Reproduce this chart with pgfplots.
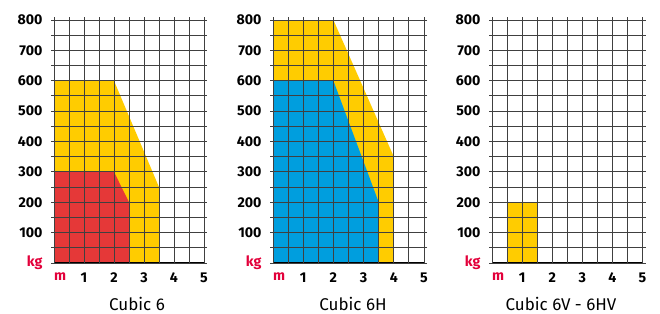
\documentclass[border=0pt]{standalone}
\usepackage{fontspec}
\setmainfont{Fira Sans}
\usepackage{pgfplots}
\pgfplotsset{compat=1.18}
\definecolor{cyel}{RGB}{255,204,0}
\definecolor{cred}{RGB}{229,56,56}
\definecolor{cblue}{RGB}{0,158,222}
\definecolor{kgred}{RGB}{226,0,58}
\pgfplotsset{
  panel/.style={
    scale only axis, width=150pt, height=243pt,
    xmin=0, xmax=5, ymin=0, ymax=800,
    xtick={0,1,2,3,4,5},
    xticklabels={\makebox[0pt][l]{\textcolor{kgred}{m}},1,2,3,4,5},
    minor xtick={0.5,1.5,2.5,3.5,4.5},
    ytick={0,100,200,300,400,500,600,700,800},
    yticklabels={\raisebox{4pt}{\textcolor{kgred}{kg}},100,200,300,400,500,600,700,800},
    minor ytick={50,150,250,350,450,550,650,750},
    grid=both,
    major grid style={line width=0.9pt, black!75},
    minor grid style={line width=0.9pt, black!75},
    axis line style={line width=0.9pt, black!75},
    tick style={line width=0.9pt, black!75},
    tick align=center,
    major tick length=6pt, minor tick length=6pt,
    xtick pos=upper, xticklabel pos=lower,
    ytick pos=both, yticklabel pos=lower,
    ticklabel style={font=\fontsize{14.2}{14.2}\selectfont\bfseries},
    yticklabel style={xshift=-5pt},
    xticklabel style={yshift=-3pt},
    axis on top,
  }
}
\begin{document}
\begin{tikzpicture}[x=1pt,y=1pt]
\useasboundingbox (0,0) rectangle (660,313);
% Panel 1
\begin{axis}[panel, at={(54pt,50pt)}, anchor=south west]
\addplot[fill=cyel, draw=none] coordinates {(0,0) (0,600) (2,600) (3.5,250) (3.5,0)} -- cycle;
\addplot[fill=cred, draw=none] coordinates {(0,0) (0,300) (2,300) (2.5,200) (2.5,0)} -- cycle;
\draw[line width=1.6pt, black] (rel axis cs:0,0) -- (rel axis cs:0,1);
\draw[line width=1.6pt, black] (rel axis cs:0,0) -- (rel axis cs:1,0);
\end{axis}
% Panel 2
\begin{axis}[panel, width=151pt, at={(273pt,50pt)}, anchor=south west]
\addplot[fill=cyel, draw=none] coordinates {(0,0) (0,800) (2,800) (4,350) (4,0)} -- cycle;
\addplot[fill=cblue, draw=none] coordinates {(0,0) (0,600) (2,600) (3.5,200) (3.5,0)} -- cycle;
\draw[line width=1.6pt, black] (rel axis cs:0,0) -- (rel axis cs:0,1);
\draw[line width=1.6pt, black] (rel axis cs:0,0) -- (rel axis cs:1,0);
\end{axis}
% Panel 3
\begin{axis}[panel, width=150.5pt, at={(492pt,50pt)}, anchor=south west]
\addplot[fill=cyel, draw=none] coordinates {(0.5,0) (0.5,200) (1.5,200) (1.5,0)} -- cycle;
\draw[line width=1.6pt, black] (rel axis cs:0,0) -- (rel axis cs:0,1);
\draw[line width=1.6pt, black] (rel axis cs:0,0) -- (rel axis cs:1,0);
\end{axis}
\node[anchor=base, font=\fontsize{17}{17}\selectfont, inner sep=0pt] at (137,3) {Cubic 6};
\node[anchor=base, font=\fontsize{17}{17}\selectfont, inner sep=0pt] at (353,3) {Cubic 6H};
\node[anchor=base, font=\fontsize{17}{17}\selectfont, inner sep=0pt] at (561,3) {Cubic 6V - 6HV};
\end{tikzpicture}
\end{document}
